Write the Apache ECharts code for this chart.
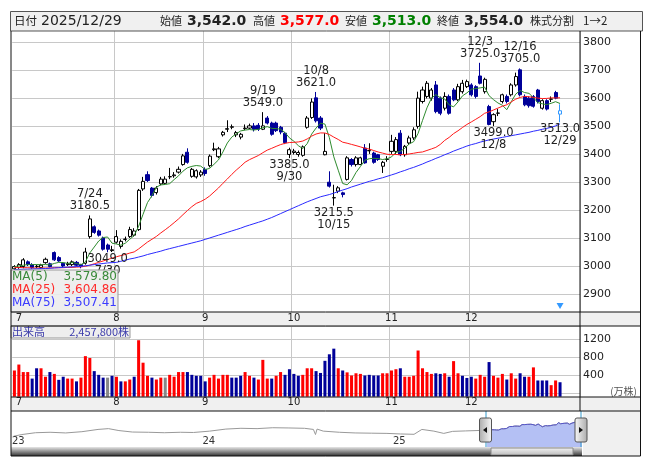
<!DOCTYPE html>
<html><head><meta charset="utf-8">
<script src="https://cdn.jsdelivr.net/npm/echarts@6/dist/echarts.min.js"></script>
<style>html,body{margin:0;padding:0;background:#fff}#c{width:653px;height:470px}</style>
</head><body><div id="c"></div>
<script>
// ---------- data ----------
const dates = ['6/30',
'7/1','7/2','7/3','7/4','7/7','7/8','7/9','7/10','7/11','7/14','7/15','7/16','7/17','7/18','7/22','7/23','7/24','7/25','7/28','7/29','7/30','7/31',
'8/1','8/4','8/5','8/6','8/7','8/8','8/12','8/13','8/14','8/15','8/18','8/19','8/20','8/21','8/22','8/25','8/26','8/27','8/28','8/29',
'9/1','9/2','9/3','9/4','9/5','9/8','9/9','9/10','9/11','9/12','9/16','9/17','9/18','9/19','9/22','9/24','9/25','9/26','9/29','9/30',
'10/1','10/2','10/3','10/6','10/7','10/8','10/9','10/10','10/14','10/15','10/16','10/17','10/20','10/21','10/22','10/23','10/24','10/27','10/28','10/29','10/30','10/31',
'11/4','11/5','11/6','11/7','11/10','11/11','11/12','11/13','11/14','11/17','11/18','11/19','11/20','11/21','11/25','11/26','11/27','11/28',
'12/1','12/2','12/3','12/4','12/5','12/8','12/9','12/10','12/11','12/12','12/15','12/16','12/17','12/18','12/19','12/22','12/23','12/24','12/25','12/26','12/29'];
const opens = [2990,
2995,2998,3015,3005,2998,2995,3012,3008,3048,3030,3010,3005,3005,3013,3005,3010,3105,3140,3125,3100,3075,3055,
3085,3070,3095,3105,3110,3130,3275,3326,3278,3262,3293,3295,3318,3322,3335,3362,3406,3320,3318,3325,
3345,3358,3415,3390,3468,3488,3495,3468,3460,3490,3492,3500,3502,3488,3528,3510,3510,3495,3474,3398,
3405,3398,3395,3495,3530,3600,3528,3397,3299,3243,3267,3261,3309,3380,3362,3362,3421,3411,3403,3397,3356,3380,
3409,3409,3474,3397,3439,3457,3498,3587,3605,3599,3646,3599,3563,3605,3628,3593,3622,3640,
3646,3640,3678,3622,3569,3515,3545,3587,3605,3611,3646,3700,3605,3599,3605,3628,3563,3590,3595,3619,3542];
const highs = [3003,
3010,3028,3020,3010,3005,3008,3030,3012,3052,3035,3012,3015,3020,3018,3008,3065,3180.5,3145,3130,3105,3080,3072,
3128,3095,3105,3140,3135,3275,3318,3338,3282,3285,3318,3320,3350,3335,3355,3400,3420,3350,3345,3342,
3352,3398,3440,3425,3482,3520,3505,3482,3475,3505,3508,3510,3510,3549,3535,3515,3515,3500,3478,3422,
3418,3412,3430,3535,3598,3621,3535,3474,3338,3290,3285,3265,3392,3385,3392,3390,3435,3438,3408,3400,3375,3392,
3468,3460,3485,3432,3465,3495,3622,3640,3660,3635,3660,3605,3620,3612,3635,3650,3664,3665,
3652,3645,3725,3672,3575,3545,3560,3615,3612,3652,3690,3705,3612,3605,3610,3632,3595,3595,3605,3625,3577];
const lows = [2985,
2990,2992,3000,2990,2992,2990,3008,2995,3018,3015,2995,3000,3000,2998,2992,3005,3098,3115,3105,3055,3049,3050,
3080,3062,3088,3100,3105,3125,3268,3300,3245,3255,3288,3290,3310,3315,3330,3358,3365,3315,3312,3318,
3322,3352,3410,3385,3462,3478,3488,3460,3452,3485,3488,3480,3482,3485,3505,3465,3478,3470,3435,3385,
3398,3390,3390,3490,3525,3512,3485,3395,3280,3215.5,3260,3245,3305,3355,3355,3360,3365,3400,3365,3375,3332,3372,
3400,3400,3392,3390,3432,3450,3490,3580,3598,3590,3545,3538,3555,3540,3588,3588,3615,3635,
3605,3598,3648,3615,3502,3499,3535,3580,3580,3605,3640,3605,3570,3565,3565,3580,3558,3555,3585,3595,3513];
const closes = [2998,
3005,3022,3005,2995,2999,3003,3024,2998,3022,3018,3000,3008,3015,3003,2998,3050,3168,3120,3110,3060,3060,3058,
3105,3088,3096,3130,3125,3270,3302,3305,3252,3278,3310,3310,3319,3325,3345,3393,3370,3345,3340,3335,
3330,3392,3418,3418,3477,3490,3497,3476,3470,3492,3500,3488,3488,3500,3510,3470,3483,3478,3440,3415,
3410,3405,3425,3528,3585,3518,3492,3409,3285,3244,3279,3255,3386,3362,3386,3386,3368,3412,3370,3380,3370,3381,
3445,3451,3397,3427,3457,3486,3599,3628,3652,3628,3551,3545,3605,3545,3593,3640,3652,3658,
3611,3605,3652,3666,3505,3540,3546,3611,3587,3646,3676,3611,3575,3572,3570,3587,3590,3560,3596,3599,3554];
// volume (万株) and direction vs previous close: 1 up, -1 down, 0 unchanged
const volumes = [507,
639,472,472,327,556,556,368,472,431,299,368,327,327,265,348,826,784,493,410,348,348,389,
368,265,265,306,368,1179,680,389,348,306,348,348,410,368,472,472,472,410,389,389,
265,348,410,327,410,410,348,348,389,472,389,348,306,743,327,327,389,472,410,535,
431,389,410,556,556,493,452,722,867,992,556,507,465,396,445,431,396,410,396,396,445,445,
507,535,556,368,368,389,951,556,472,431,445,431,445,368,715,445,389,341,
368,327,410,368,694,389,348,431,306,445,327,445,368,368,576,285,285,285,181,285,246];
const volDir = [1,
1,1,1,-1,-1,1,1,-1,1,-1,-1,1,1,-1,1,1,1,-1,-1,-1,0,-1,
1,-1,1,1,-1,1,1,1,-1,1,1,0,1,1,1,1,-1,-1,-1,-1,
-1,1,1,1,1,1,-1,-1,-1,1,1,-1,1,1,1,-1,1,1,-1,-1,
-1,-1,1,1,1,-1,-1,-1,-1,-1,1,-1,1,1,1,1,-1,-1,-1,-1,1,1,
1,1,-1,1,1,1,1,1,1,1,-1,-1,1,-1,1,1,-1,-1,
-1,1,1,1,-1,1,1,1,-1,1,1,-1,-1,1,1,-1,-1,-1,1,1,-1];
const ma5Head = [2998, 3000, 3003, 3005];
const ma25Head = [2995,2995,2994,2994,2993,2993,2993,2993,2993,2994,2994,2994,2995,2995,2996,2997,2999,3003,3008,3013,3018,3023,3028,3033];
const ma75 = [2987.5,
2988,2988.5,2989,2989.5,2990,2990.5,2991,2992,2993,2994,2995,2996,2997,2998,2999,3001,3003,3005,3007,3009,3011,3012,
3013,3017,3021,3025,3028,3032,3036,3041,3045,3049,3053,3058,3062,3066,3070,3074,3078,3082,3086,3090,
3095,3100,3105,3110,3115,3120,3125,3130,3135,3141,3146,3151,3156,3161,3167,3173,3180,3187,3194,3201,
3208,3215,3222,3229,3235,3241,3247,3251,3255,3260,3266,3271,3276,3282,3287,3292,3297,3302,3306,3311,3315,3320,
3325,3330,3336,3341,3347,3352,3358,3364,3371,3377,3384,3390,3397,3403,3410,3416,3422,3428,
3433,3437,3442,3446,3450,3453,3456,3459,3462,3465,3468,3471,3474,3477,3481,3484,3488,3491,3495,3500,3507.41];
const priceTicks = {min: 2800, max: 3900, step: 100};
const volTicks = {min: 0, max: 1500, step: 400};
// labelled extremes: [date, value, 'high'|'low']
const extremes = [['7/24',3180.5,'high'],['7/30',3049.0,'low'],['9/19',3549.0,'high'],['9/30',3385.0,'low'],
  ['10/8',3621.0,'high'],['10/15',3215.5,'low'],['12/3',3725.0,'high'],['12/8',3499.0,'low'],['12/16',3705.0,'high'],['12/29',3513.0,'low']];
const header = {date:'2025/12/29', open:'3,542.0', high:'3,577.0', low:'3,513.0', close:'3,554.0', split:'1→2'};
const maLegend = [['MA(5)','3,579.80'],['MA(25)','3,604.86'],['MA(75)','3,507.41']];
const volumeLabel = ['出来高','2,457,800株'];
// long-term navigator history (approx. closes read from the overview strip)
const navHist = [['2023-01-04',2450],['2023-01-20',2600],['2023-02-15',2760],['2023-03-15',2800],['2023-04-14',2740],['2023-05-15',2850],
 ['2023-06-15',3050],['2023-07-05',3120],['2023-07-25',2950],['2023-08-20',2820],['2023-09-20',2800],['2023-10-20',2760],
 ['2023-11-20',2800],['2023-12-15',2780],['2024-01-15',2900],['2024-02-15',3080],['2024-03-15',3150],['2024-04-15',3120],
 ['2024-05-15',3200],['2024-06-15',3180],['2024-07-15',3150],['2024-08-01',3050],['2024-08-05',2600],['2024-08-08',3080],
 ['2024-08-20',2900],['2024-09-20',2800],['2024-10-20',2740],['2024-11-20',2720],['2024-12-20',2700],['2025-01-15',2650],
 ['2025-02-10',2620],['2025-02-25',3050],['2025-03-20',2900],['2025-04-08',2700],['2025-04-25',2880],['2025-05-20',2920],
 ['2025-06-16',2960]];
const navYears = ['23','24','25'];

// ---------- derived ----------
const N = dates.length;
const cats = dates.concat(['_a','_b','_c','_d']);
function sma(arr, n, head) {
  return arr.map((_, i) => {
    if (i < n - 1) return head[i];
    let s = 0; for (let j = i - n + 1; j <= i; j++) s += arr[j];
    return +(s / n).toFixed(2);
  });
}
const ma5 = sma(closes, 5, ma5Head);
const ma25 = sma(closes, 25, ma25Head);
const candle = dates.map((d, i) => {
  const item = {value: [opens[i], closes[i], lows[i], highs[i]]};
  if (i === N - 1) item.itemStyle = {color: '#ffffff', color0: '#ffffff', borderColor: '#3399ff', borderColor0: '#3399ff'};
  return item;
});
const monthOf = d => d.split('/')[0];
const isMonthStart = i => i > 0 && i < N && monthOf(dates[i]) !== monthOf(dates[i - 1]);
const isoDate = d => { const [m, dd] = d.split('/'); return '2025-' + m.padStart(2, '0') + '-' + dd.padStart(2, '0'); };
const navData = navHist.concat(dates.map((d, i) => [isoDate(d), closes[i]]));
const navSel = dates.map((d, i) => [isoDate(d), closes[i]]);

const FONT = 'DejaVu Sans';
const JP = '"Noto Sans CJK JP", "DejaVu Sans"';
const GRID_L = 12.2, GRID_W = 567.8;

const chart = echarts.init(document.getElementById('c'), null, {renderer: 'canvas'});

const markData = extremes.map(([d, v, t]) => ({
  coord: [d, v], value: v,
  label: {
    position: t === 'high' ? 'top' : 'bottom',
    distance: t === 'high' ? 3 : 1,
    formatter: t === 'high' ? d + '\n' + v.toFixed(1) : v.toFixed(1) + '\n' + d
  }
}));
const monthAxisLabel = (margin) => ({show: true, interval: (i) => isMonthStart(i), formatter: v => monthOf(v),
  color: '#222', fontSize: 10, fontFamily: FONT, margin: margin});

const option = {
  animation: false,
  backgroundColor: '#ffffff',
  grid: [
    {left: GRID_L, width: GRID_W, top: 13.77, height: 308.3},      // price
    {left: GRID_L, width: GRID_W, top: 325.8, height: 67.5},       // volume scale
    {left: GRID_L, width: GRID_W, top: 325.8, height: 70.9},       // volume bars
    {left: 12, width: 571, top: 413, height: 34}                    // navigator
  ],
  xAxis: [
    {type: 'category', gridIndex: 0, data: cats, boundaryGap: true,
     axisLine: {show: false}, axisTick: {show: false}, axisLabel: {show: false},
     splitLine: {show: true, interval: (i) => isMonthStart(i) && i > 1, lineStyle: {color: '#c8c8c8', width: 1}}},
    {type: 'category', gridIndex: 1, data: cats, position: 'top', boundaryGap: true, z: 55,
     axisLine: {show: false}, axisTick: {show: false}, axisLabel: monthAxisLabel(2.5), splitLine: {show: false}},
    {type: 'category', gridIndex: 1, data: cats, position: 'bottom', boundaryGap: true, z: 55,
     axisLine: {show: false}, axisTick: {show: false}, axisLabel: monthAxisLabel(4.5), splitLine: {show: false}},
    {type: 'category', gridIndex: 2, data: cats, boundaryGap: true,
     axisLine: {show: false}, axisTick: {show: false}, axisLabel: {show: false},
     splitLine: {show: true, interval: (i) => isMonthStart(i) && i > 1, lineStyle: {color: '#c8c8c8', width: 1}}},
    {type: 'time', gridIndex: 3, min: '2023-01-01', max: '2025-12-31', show: false}
  ],
  yAxis: [
    {type: 'value', gridIndex: 0, position: 'right', min: priceTicks.min, max: priceTicks.max, interval: priceTicks.step,
     axisLine: {show: false}, axisTick: {show: false},
     axisLabel: {color: '#222', fontSize: 11, fontFamily: FONT, margin: 3,
       formatter: v => (v === priceTicks.min || v === priceTicks.max) ? '' : String(v)},
     splitLine: {lineStyle: {color: '#c8c8c8', width: 1}}},
    {type: 'value', gridIndex: 1, position: 'right', min: volTicks.min, max: volTicks.max, interval: volTicks.step,
     axisLine: {show: false}, axisTick: {show: false},
     axisLabel: {color: '#222', fontSize: 11, fontFamily: FONT, margin: 3, formatter: v => (v === 0 || v === volTicks.max) ? '' : String(v)},
     splitLine: {lineStyle: {color: '#c8c8c8', width: 1}}},
    {type: 'value', gridIndex: 2, min: -75.6, max: 1500, show: false, splitLine: {show: false}},
    {type: 'value', gridIndex: 3, min: 1500, max: 4500, show: false, splitLine: {show: false}}
  ],
  series: [
    {type: 'candlestick', xAxisIndex: 0, yAxisIndex: 0, data: candle, barWidth: 3.6,
     itemStyle: {color: '#ffffff', color0: '#000099', borderColor: '#000000', borderColor0: '#000099', borderWidth: 1},
     markPoint: {symbol: 'circle', symbolSize: 0, silent: true,
       label: {show: true, color: '#222', fontSize: 11.5, fontFamily: FONT, lineHeight: 12},
       data: markData.concat([{coord: [dates[N - 1], 2857], symbol: 'triangle', symbolRotate: 180, symbolSize: [7, 6],
         itemStyle: {color: '#3399ff'}, label: {show: false}}])}},
    {type: 'line', name: 'MA(5)', xAxisIndex: 0, yAxisIndex: 0, data: ma5, symbol: 'none', lineStyle: {color: '#2e8b2e', width: 1}, z: 3},
    {type: 'line', name: 'MA(25)', xAxisIndex: 0, yAxisIndex: 0, data: ma25, symbol: 'none', lineStyle: {color: '#ff1a1a', width: 1}, z: 3},
    {type: 'line', name: 'MA(75)', xAxisIndex: 0, yAxisIndex: 0, data: ma75, symbol: 'none', lineStyle: {color: '#2a2aff', width: 1}, z: 3},
    {type: 'custom', xAxisIndex: 3, yAxisIndex: 2, data: volumes.map((v, i) => [i, v, volDir[i]]),
     renderItem: (params, api) => {
       const top = api.coord([api.value(0), api.value(1)]);
       const cs = params.coordSys;
       const bw = api.size([1, 0])[0] * 0.68;
       const dir = api.value(2);
       return {type: 'rect', shape: {x: top[0] - bw / 2, y: top[1], width: bw, height: cs.y + cs.height - top[1]},
         style: {fill: dir > 0 ? '#ff0000' : dir < 0 ? '#000099' : '#888888'}};
     }},
    {type: 'line', xAxisIndex: 4, yAxisIndex: 3, data: navData, symbol: 'none', lineStyle: {color: '#999999', width: 1}},
    {type: 'line', xAxisIndex: 4, yAxisIndex: 3, data: navSel, symbol: 'none', lineStyle: {color: '#5555cc', width: 1},
     areaStyle: {color: '#b4c0f4', opacity: 1, origin: 'start'}, z: 3}
  ],
  graphic: [
    // header
    {type: 'rect', shape: {x: 10.5, y: 11.5, width: 632, height: 19.5}, style: {fill: '#f0f0f0', stroke: '#555', lineWidth: 1}, z: 50},
    {type: 'text', x: 14, y: 21, style: {text: '日付', fontFamily: JP, fontSize: 11.5, fill: '#222', textVerticalAlign: 'middle'}, z: 51},
    {type: 'text', x: 41, y: 21, style: {text: header.date, fontFamily: FONT, fontSize: 14, fill: '#222', textVerticalAlign: 'middle'}, z: 51},
    {type: 'text', x: 160, y: 21, style: {text: '始値', fontFamily: JP, fontSize: 11, fill: '#222', textVerticalAlign: 'middle'}, z: 51},
    {type: 'text', x: 187, y: 21, style: {text: header.open, fontFamily: FONT, fontSize: 14, fontWeight: 'bold', fill: '#222', textVerticalAlign: 'middle'}, z: 51},
    {type: 'text', x: 253, y: 21, style: {text: '高値', fontFamily: JP, fontSize: 11, fill: '#222', textVerticalAlign: 'middle'}, z: 51},
    {type: 'text', x: 280, y: 21, style: {text: header.high, fontFamily: FONT, fontSize: 14, fontWeight: 'bold', fill: '#ff0000', textVerticalAlign: 'middle'}, z: 51},
    {type: 'text', x: 345, y: 21, style: {text: '安値', fontFamily: JP, fontSize: 11, fill: '#222', textVerticalAlign: 'middle'}, z: 51},
    {type: 'text', x: 372, y: 21, style: {text: header.low, fontFamily: FONT, fontSize: 14, fontWeight: 'bold', fill: '#008000', textVerticalAlign: 'middle'}, z: 51},
    {type: 'text', x: 437, y: 21, style: {text: '終値', fontFamily: JP, fontSize: 11, fill: '#222', textVerticalAlign: 'middle'}, z: 51},
    {type: 'text', x: 464, y: 21, style: {text: header.close, fontFamily: FONT, fontSize: 14, fontWeight: 'bold', fill: '#222', textVerticalAlign: 'middle'}, z: 51},
    {type: 'text', x: 530, y: 21, style: {text: '株式分割', fontFamily: JP, fontSize: 11, fill: '#222', textVerticalAlign: 'middle'}, z: 51},
    {type: 'text', x: 583, y: 21, style: {text: header.split, fontFamily: JP, fontSize: 11.5, fill: '#222', textVerticalAlign: 'middle'}, z: 51},
    // axis label bands
    {type: 'rect', shape: {x: 11, y: 312, width: 629, height: 14}, style: {fill: '#f0f0f0'}, z: 40},
    {type: 'rect', shape: {x: 11, y: 397, width: 629, height: 14}, style: {fill: '#f0f0f0'}, z: 40},
    {type: 'rect', shape: {x: 583, y: 411, width: 57, height: 45}, style: {fill: '#f0f0f0'}, z: 40},
    // frame lines
    {type: 'polyline', shape: {points: [[11, 31], [11, 456], [640.5, 456], [640.5, 31]]}, style: {stroke: '#111', fill: null, lineWidth: 1}, z: 60},
    {type: 'line', shape: {x1: 580, y1: 31, x2: 580, y2: 411}, style: {stroke: '#111', lineWidth: 1}, z: 60},
    {type: 'line', shape: {x1: 11, y1: 312, x2: 640, y2: 312}, style: {stroke: '#111', lineWidth: 1}, z: 60},
    {type: 'line', shape: {x1: 11, y1: 326, x2: 640, y2: 326}, style: {stroke: '#111', lineWidth: 1}, z: 60},
    {type: 'line', shape: {x1: 11, y1: 397, x2: 640, y2: 397}, style: {stroke: '#111', lineWidth: 1}, z: 60},
    {type: 'line', shape: {x1: 11, y1: 411, x2: 640, y2: 411}, style: {stroke: '#111', lineWidth: 1}, z: 60},
    // MA legend box
    {type: 'rect', shape: {x: 11, y: 270, width: 107, height: 42}, style: {fill: 'rgba(236,236,236,0.9)', stroke: '#999', lineWidth: 1}, z: 45},
    ...maLegend.map((m, j) => ({type: 'text', x: 12, y: 276.5 + j * 13, style: {text: m[0], fontFamily: FONT, fontSize: 12, fill: ['#3a8a3a', '#ff2a2a', '#3a3aff'][j], textVerticalAlign: 'middle'}, z: 46})),
    ...maLegend.map((m, j) => ({type: 'text', x: 117, y: 276.5 + j * 13, style: {text: m[1], fontFamily: FONT, fontSize: 12, fill: ['#3a8a3a', '#ff2a2a', '#3a3aff'][j], textAlign: 'right', textVerticalAlign: 'middle'}, z: 46})),
    // volume legend
    {type: 'rect', shape: {x: 11, y: 326, width: 119, height: 12}, style: {fill: 'rgba(236,236,236,0.9)', stroke: '#999', lineWidth: 1}, z: 45},
    {type: 'text', x: 12, y: 332, style: {text: volumeLabel[0], fontFamily: JP, fontSize: 11, fill: '#3a3aaa', textVerticalAlign: 'middle'}, z: 46},
    {type: 'text', x: 129, y: 332, style: {text: volumeLabel[1], fontFamily: JP, fontSize: 11, fill: '#3a3aaa', textAlign: 'right', textVerticalAlign: 'middle'}, z: 46},
    {type: 'text', x: 637, y: 391, style: {text: '(万株)', fontFamily: JP, fontSize: 10, fill: '#555', textAlign: 'right', textVerticalAlign: 'middle'}, z: 46},
    // navigator extras
    ...navYears.map((t, j) => ({type: 'text', x: 12 + j * 190.5, y: 441, style: {text: t, fontFamily: FONT, fontSize: 10, fill: '#333', textVerticalAlign: 'middle'}, z: 46})),
    {type: 'rect', shape: {x: 11, y: 447, width: 571, height: 9}, style: {fill: new echarts.graphic.LinearGradient(0, 0, 0, 1, [{offset: 0, color: '#e6e6e6'}, {offset: 1, color: '#333'}])}, z: 46},
    {type: 'rect', shape: {x: 491, y: 448, width: 82, height: 7}, style: {fill: new echarts.graphic.LinearGradient(0, 0, 0, 1, [{offset: 0, color: '#f4f4f4'}, {offset: 1, color: '#bbb'}]), stroke: '#888'}, z: 47},
    {type: 'line', shape: {x1: 486, y1: 411, x2: 486, y2: 447}, style: {stroke: '#3399cc', lineWidth: 1}, z: 47},
    {type: 'line', shape: {x1: 581, y1: 411, x2: 581, y2: 447}, style: {stroke: '#3399cc', lineWidth: 1}, z: 47},
    {type: 'rect', shape: {x: 479.5, y: 418, width: 12, height: 24, r: 2}, style: {fill: new echarts.graphic.LinearGradient(1, 0, 0, 0, [{offset: 0, color: '#fafafa'}, {offset: 1, color: '#aaa'}]), stroke: '#555'}, z: 48},
    {type: 'polygon', shape: {points: [[483, 430], [487, 427], [487, 433]]}, style: {fill: '#111'}, z: 49},
    {type: 'rect', shape: {x: 575, y: 418, width: 12, height: 24, r: 2}, style: {fill: new echarts.graphic.LinearGradient(0, 0, 1, 0, [{offset: 0, color: '#fafafa'}, {offset: 1, color: '#aaa'}]), stroke: '#555'}, z: 48},
    {type: 'polygon', shape: {points: [[583, 430], [579, 427], [579, 433]]}, style: {fill: '#111'}, z: 49}
  ]
};
chart.setOption(option);
</script></body></html>
